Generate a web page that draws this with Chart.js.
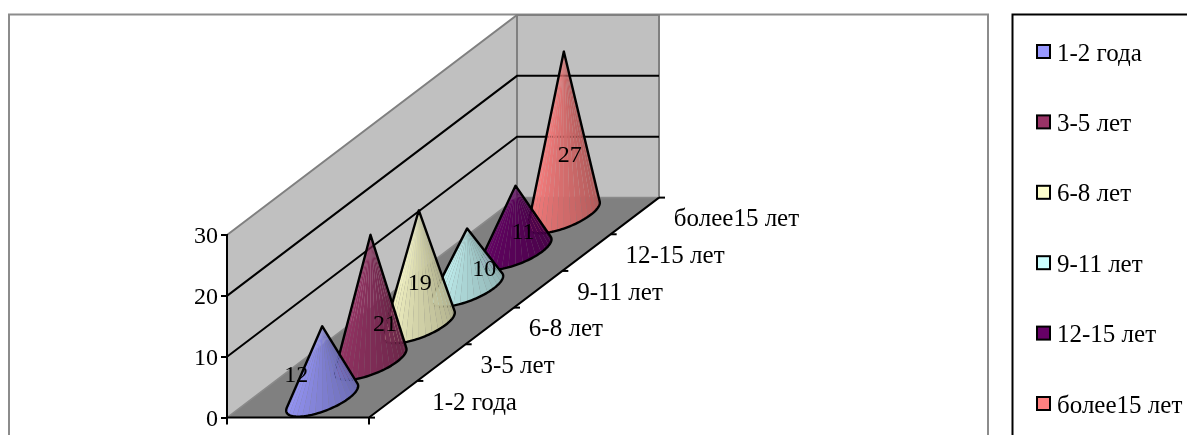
<!DOCTYPE html>
<html>
<head>
<meta charset="utf-8">
<title>Стаж</title>
<style>
  html, body { margin: 0; padding: 0; background: #fff; overflow: hidden; }
  canvas { display: block; }
</style>
<script src="https://cdn.jsdelivr.net/npm/chart.js@4/dist/chart.umd.js"></script>
</head>
<body>
<canvas id="cones" width="1187" height="435"></canvas>
<script>
const categories = ['1-2 года', '3-5 лет', '6-8 лет', '9-11 лет', '12-15 лет', 'более15 лет'];
const values = [12, 21, 19, 10, 11, 27];
const coneColors = ['#9999FF', '#993366', '#FFFFCC', '#CCFFFF', '#660066', '#FF8080'];

// where each value label sits, relative to the middle of its cone's base
const labelShift = [[-26, -26], [14.5, -40], [1, -44], [17, -22], [7.5, -22], [6, -62]];

const FONT = '"Liberation Serif", "Times New Roman", serif';
const FRONT_WIDTH = 142;      // width of the floor along the front edge
const DEPTH_SLOPE = 220 / 290; // how far the floor rises per pixel of depth
const FACETS = 18;

function shade(hex, k) {
  const n = parseInt(hex.slice(1), 16);
  const r = Math.round((n >> 16 & 255) * k);
  const g = Math.round((n >> 8 & 255) * k);
  const b = Math.round((n & 255) * k);
  return `rgb(${r},${g},${b})`;
}

function line(ctx, pts, color, width) {
  ctx.beginPath();
  pts.forEach((p, i) => i ? ctx.lineTo(p[0], p[1]) : ctx.moveTo(p[0], p[1]));
  ctx.strokeStyle = color;
  ctx.lineWidth = width;
  ctx.stroke();
}

function poly(ctx, pts, color) {
  ctx.beginPath();
  pts.forEach((p, i) => i ? ctx.lineTo(p[0], p[1]) : ctx.moveTo(p[0], p[1]));
  ctx.closePath();
  ctx.fillStyle = color;
  ctx.fill();
}

const walls = {
  id: 'walls',
  beforeDraw(chart) {
    const ctx = chart.ctx;
    const { left, right, bottom, top } = chart.chartArea;
    const rise = (right - left) * DEPTH_SLOPE;
    const y = chart.scales.y;

    ctx.save();
    // frame of the plot, runs off the bottom of the page
    line(ctx, [[9, 435], [9, 14.5], [988, 14.5], [988, 435]], '#8c8c8c', 2);

    poly(ctx, [[left, top], [right, top - rise], [right, bottom - rise], [left, bottom]], '#C0C0C0');
    poly(ctx, [[right, top - rise], [right + FRONT_WIDTH, top - rise], [right + FRONT_WIDTH, bottom - rise], [right, bottom - rise]], '#C0C0C0');
    poly(ctx, [[left, bottom], [left + FRONT_WIDTH, bottom], [right + FRONT_WIDTH, bottom - rise], [right, bottom - rise]], '#808080');

    line(ctx, [[left, top], [right, top - rise], [right + FRONT_WIDTH, top - rise], [right + FRONT_WIDTH, bottom - rise]], '#808080', 2);
    line(ctx, [[right, top - rise], [right, bottom - rise]], '#808080', 2);
    line(ctx, [[left, bottom], [right, bottom - rise], [right + FRONT_WIDTH, bottom - rise]], '#8a8a8a', 1.5);

    y.ticks.forEach(t => {
      if (t.value === 0 || t.value === y.max) return;
      const py = y.getPixelForValue(t.value);
      line(ctx, [[left, py], [right, py - rise], [right + FRONT_WIDTH, py - rise]], '#000', 2);
    });

    // floor edges and the depth axis ticks
    line(ctx, [[left, bottom], [left + FRONT_WIDTH, bottom], [right + FRONT_WIDTH, bottom - rise]], '#000', 2);
    line(ctx, [[left, bottom], [left, bottom + 7]], '#000', 2);
    line(ctx, [[left + FRONT_WIDTH, bottom], [left + FRONT_WIDTH, bottom + 7]], '#000', 2);
    for (let i = 0; i <= categories.length; i++) {
      const d = (right - left) * i / categories.length;
      const px = left + FRONT_WIDTH + d;
      const py = bottom - d * DEPTH_SLOPE;
      line(ctx, [[px, py], [px + 6, py]], '#000', 2);
    }
    ctx.restore();
  }
};

function drawCone(ctx, cx, cy, height, ux, vx, vy, color) {
  // base is a circle lying on the sheared floor
  const pointAt = t => [cx + ux * Math.cos(t) + vx * Math.sin(t), cy + vy * Math.sin(t)];
  const apex = [cx, cy - height];
  const b = height / -vy;
  const a = -b * vx / ux;
  const r = Math.hypot(a, b);
  const phi = Math.atan2(b, a);
  const half = Math.acos(1 / r);
  // visible arc runs from the left silhouette round the front to the right one
  const start = phi + half;
  const end = phi + 2 * Math.PI - half;

  ctx.save();
  ctx.globalAlpha = 0.975;
  for (let k = 0; k < FACETS; k++) {
    const f = k / (FACETS - 1);
    const p0 = pointAt(start + (end - start) * k / FACETS);
    const p1 = pointAt(start + (end - start) * (k + 1) / FACETS);
    poly(ctx, [apex, p0, p1], shade(color, 1 - 0.34 * f));
  }
  ctx.globalAlpha = 1;
  ctx.beginPath();
  ctx.moveTo(apex[0], apex[1]);
  for (let k = 0; k <= 60; k++) {
    const p = pointAt(start + (end - start) * k / 60);
    ctx.lineTo(p[0], p[1]);
  }
  ctx.closePath();
  ctx.strokeStyle = '#000';
  ctx.lineWidth = 2.4;
  ctx.lineJoin = 'round';
  ctx.stroke();
  ctx.restore();
}

const cones = {
  id: 'cones',
  afterDatasetsDraw(chart) {
    const ctx = chart.ctx;
    const { left, right, bottom } = chart.chartArea;
    const bars = chart.getDatasetMeta(0).data;
    const step = (right - left) / categories.length;
    const halfDepth = step / 2;

    // back row first so the nearer cones overlap it
    for (let i = bars.length - 1; i >= 0; i--) {
      const bar = bars[i];
      const depth = bar.x - left;
      const cx = bar.x + FRONT_WIDTH / 2;
      const cy = bar.base - depth * DEPTH_SLOPE;
      drawCone(ctx, cx, cy, bar.base - bar.y, 26.7, halfDepth, -halfDepth * DEPTH_SLOPE, coneColors[i]);
    }

    ctx.save();
    ctx.fillStyle = '#000';
    ctx.textBaseline = 'middle';

    ctx.font = '24px ' + FONT;
    ctx.textAlign = 'center';
    bars.forEach((bar, i) => {
      const depth = bar.x - left;
      ctx.fillText(String(values[i]),
        bar.x + FRONT_WIDTH / 2 + labelShift[i][0],
        bar.base - depth * DEPTH_SLOPE + labelShift[i][1] + 3);
    });

    // depth axis labels, along the right edge of the floor
    ctx.font = '25px ' + FONT;
    ctx.textAlign = 'left';
    bars.forEach((bar, i) => {
      const depth = bar.x - left;
      ctx.fillText(categories[i], bar.x + FRONT_WIDTH + 39, bottom - depth * DEPTH_SLOPE + 4);
    });
    ctx.restore();
  }
};

const sideLegend = {
  id: 'sideLegend',
  afterDraw(chart) {
    const ctx = chart.ctx;
    ctx.save();
    line(ctx, [[1012.5, 435], [1012.5, 14.5], [1187, 14.5]], '#000', 2);
    ctx.font = '25px ' + FONT;
    ctx.textAlign = 'left';
    ctx.textBaseline = 'middle';
    categories.forEach((label, i) => {
      const py = 52 + i * 70.4;
      ctx.fillStyle = coneColors[i];
      ctx.fillRect(1037, py - 7, 13, 13);
      ctx.strokeStyle = '#000';
      ctx.lineWidth = 2;
      ctx.strokeRect(1037, py - 7, 13, 13);
      ctx.fillStyle = '#000';
      ctx.fillText(label, 1057, py + 2);
    });
    ctx.restore();
  }
};

new Chart(document.getElementById('cones').getContext('2d'), {
  type: 'bar',
  data: {
    labels: categories,
    datasets: [{
      data: values,
      backgroundColor: 'transparent',
      borderWidth: 0
    }]
  },
  options: {
    responsive: false,
    animation: false,
    events: [],
    layout: { padding: { left: 167, right: 670, top: 235, bottom: 16 } },
    plugins: {
      legend: { display: false },
      tooltip: { enabled: false }
    },
    scales: {
      x: { display: false },
      y: {
        min: 0,
        max: 30,
        afterFit(scale) { scale.width = 60; },
        ticks: {
          stepSize: 10,
          padding: 3,
          labelOffset: 2,
          color: '#000',
          font: { family: FONT, size: 24 }
        },
        grid: {
          drawOnChartArea: false,
          tickLength: 6,
          color: '#000',
          lineWidth: 2
        },
        border: { color: '#000', width: 2 }
      }
    }
  },
  plugins: [walls, cones, sideLegend]
});
</script>
</body>
</html>
